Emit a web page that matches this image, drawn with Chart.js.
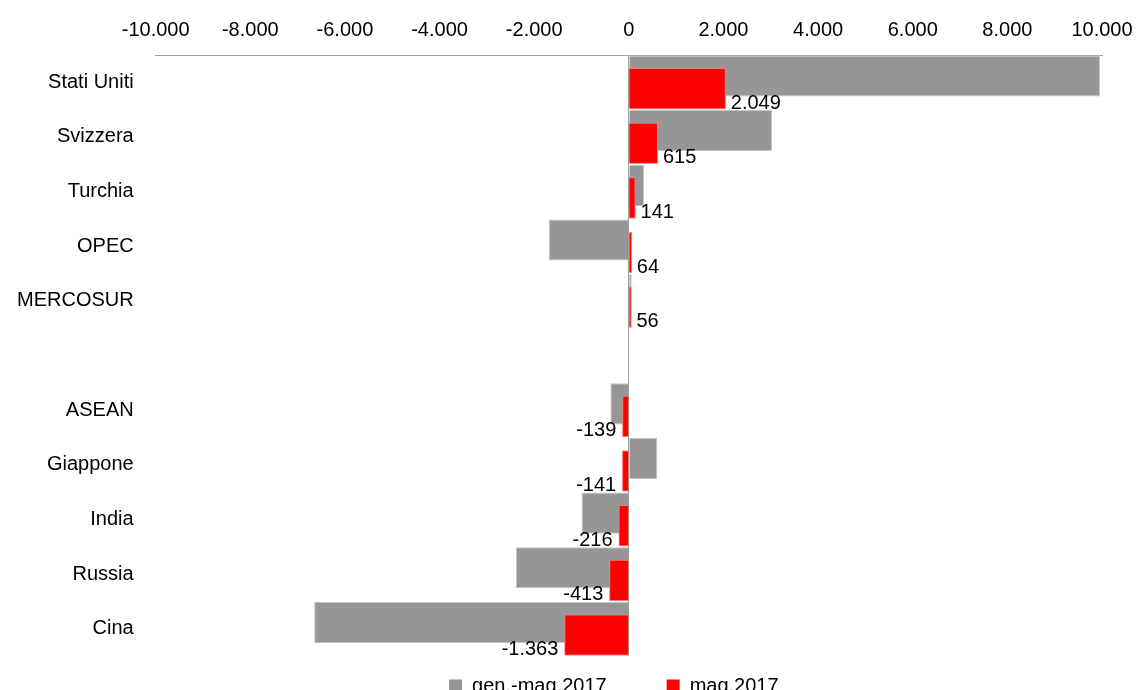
<!DOCTYPE html>
<html>
<head>
<meta charset="utf-8">
<script src="https://cdn.jsdelivr.net/npm/chart.js@4"></script>
<style>
  body { margin: 0; background: #fff; }
  #wrap { width: 1138px; height: 690px; position: relative; }
</style>
</head>
<body>
<div id="wrap"><canvas id="myChart"></canvas></div>
<script>
const ctx = document.getElementById('myChart');

// Data
const categories = ['Stati Uniti', 'Svizzera', 'Turchia', 'OPEC', 'MERCOSUR', '', 'ASEAN', 'Giappone', 'India', 'Russia', 'Cina'];
const genMag2017 = [9960, 3030, 320, -1690, 60, null, -390, 600, -1000, -2390, -6650];
const mag2017 = [2049, 615, 141, 64, 56, null, -139, -141, -216, -413, -1363];
const seriesNames = ['gen.-mag.2017', 'mag.2017'];
const xMin = -10000, xMax = 10000, xStep = 2000;

const FONT = 'Arial, "Liberation Sans", sans-serif';

// 2049 -> "2.049"
function fmt(v){
  const s = Math.abs(v).toString().replace(/\B(?=(\d{3})+(?!\d))/g, '.');
  return (v < 0 ? '-' : '') + s;
}

// red bars go over the grey ones, then their value labels
const overlayPlugin = {
  id: 'overlay',
  afterDatasetsDraw(chart){
    const meta = chart.getDatasetMeta(1);
    meta.controller.draw();
    const c = chart.ctx;
    c.save();
    c.font = '20px ' + FONT;
    c.fillStyle = '#000';
    c.textBaseline = 'middle';
    meta.data.forEach(function(bar, i){
      const v = mag2017[i];
      if (v === null) return;
      const y = bar.y + bar.height / 2 - 6;
      if (v >= 0) {
        c.textAlign = 'left';
        c.fillText(fmt(v), bar.x + 5, y);
      } else {
        c.textAlign = 'right';
        c.fillText(fmt(v), bar.x - 6, y);
      }
    });
    c.restore();
  }
};

new Chart(ctx, {
  type: 'bar',
  data: {
    labels: categories,
    datasets: [{
      label: seriesNames[0],
      data: genMag2017,
      backgroundColor: '#969696',
      borderColor: '#c4c4c4',
      borderWidth: 1
    }, {
      label: seriesNames[1],
      data: mag2017,
      backgroundColor: '#ff0000',
      borderColor: '#ff7a7a',
      borderWidth: 1
    }]
  },
  options: {
    indexAxis: 'y',
    responsive: true,
    maintainAspectRatio: false,
    animation: false,
    categoryPercentage: 0.459,
    barPercentage: 3.28,
    layout: {
      padding: { top: 18, left: -5, right: 36, bottom: -24 }
    },
    scales: {
      x: {
        position: 'top',
        min: xMin,
        max: xMax,
        ticks: {
          stepSize: xStep,
          padding: 0,
          color: '#000',
          font: { family: FONT, size: 20 },
          callback: function(value){ return fmt(value); }
        },
        grid: {
          drawTicks: true,
          tickLength: 13,
          tickColor: 'rgba(0,0,0,0)',
          color: function(c){ return c.tick && c.tick.value === 0 ? '#a0a0a0' : 'rgba(0,0,0,0)'; }
        },
        border: { display: true, color: '#a0a0a0' }
      },
      y: {
        ticks: {
          padding: 22,
          color: '#000',
          font: { family: FONT, size: 20 }
        },
        grid: { display: false, drawTicks: false },
        border: { display: false }
      }
    },
    plugins: {
      tooltip: { enabled: false },
      legend: {
        position: 'bottom',
        fullSize: false,
        labels: {
          boxWidth: 13,
          boxHeight: 13,
          padding: 20,
          color: '#000',
          font: { family: FONT, size: 20 },
          generateLabels: function(chart){
            const items = Chart.defaults.plugins.legend.labels.generateLabels(chart);
            items.forEach(function(it, i){
              it.lineWidth = 0;
              it.text = it.text + (i < items.length - 1 ? '\u2003\u2003' : '\u2003\u2002');
            });
            return items;
          }
        }
      }
    }
  },
  plugins: [overlayPlugin]
});
</script>
</body>
</html>
